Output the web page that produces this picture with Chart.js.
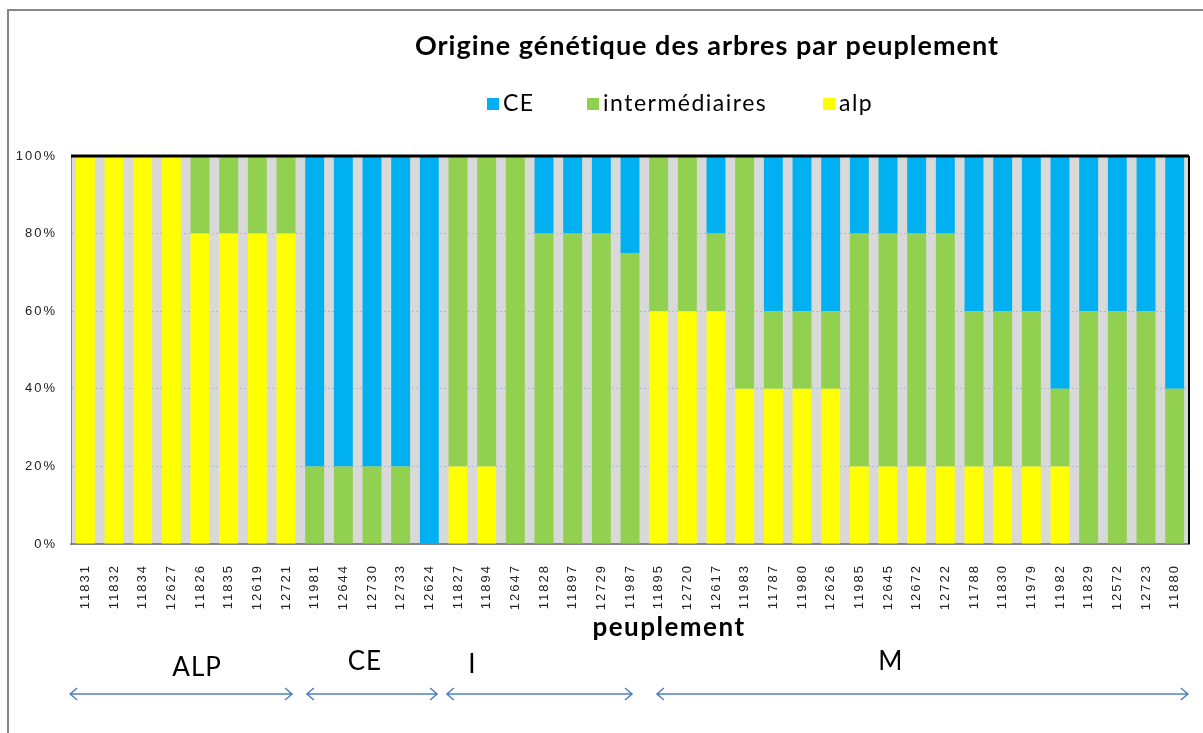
<!DOCTYPE html>
<html>
<head>
<meta charset="utf-8">
<script src="https://cdn.jsdelivr.net/npm/chart.js@4"></script>
<style>
    html, body { margin: 0; padding: 0; background: #fff; }
    #wrap { position: relative; width: 1203px; height: 733px; }
</style>
</head>
<body>
<div id="wrap"><canvas id="chart" width="1203" height="733"></canvas></div>
<script>
// Stand codes (peuplements)
const stands = [
    '11831', '11832', '11834', '12627', '11826', '11835', '12619', '12721',
    '11981', '12644', '12730', '12733', '12624',
    '11827', '11894', '12647', '11828', '11897', '12729', '11987',
    '11895', '12720', '12617', '11983', '11787', '11980', '12626', '11985', '12645',
    '12672', '12722', '11788', '11830', '11979', '11982', '11829', '12572', '12723', '11880'
];

// Share of trees per origin (%)
const alpValues = [
    100, 100, 100, 100, 80, 80, 80, 80,
    0, 0, 0, 0, 0,
    20, 20, 0, 0, 0, 0, 0,
    60, 60, 60, 40, 40, 40, 40, 20, 20,
    20, 20, 20, 20, 20, 20, 0, 0, 0, 0
];
const interValues = [
    0, 0, 0, 0, 20, 20, 20, 20,
    20, 20, 20, 20, 0,
    80, 80, 100, 80, 80, 80, 75,
    40, 40, 20, 60, 20, 20, 20, 60, 60,
    60, 60, 40, 40, 40, 20, 60, 60, 60, 40
];
const ceValues = [
    0, 0, 0, 0, 0, 0, 0, 0,
    80, 80, 80, 80, 100,
    0, 0, 0, 20, 20, 20, 25,
    0, 0, 20, 0, 40, 40, 40, 20, 20,
    20, 20, 40, 40, 40, 60, 40, 40, 40, 60
];

const yTicks = [0, 20, 40, 60, 80, 100];

// Stand groups shown under the axis
const groupNames = ['ALP', 'CE', 'I', 'M'];

const seriesColors = { ce: '#00B0F0', inter: '#92D050', alp: '#FFFF00' };
const textFont = 'Lato, "Open Sans", sans-serif';

// Draws the frame, background, title, legend, axis title and group arrows
const decorPlugin = {
    id: 'decor',
    beforeDraw(chart) {
        const ctx = chart.ctx;
        const a = chart.chartArea;
        ctx.save();
        ctx.fillStyle = '#D9D9D9';
        ctx.fillRect(a.left, a.top, a.right - a.left, a.bottom - a.top);
        ctx.restore();
        // wider spacing for the tick labels (Excel look)
        ctx.letterSpacing = '2px';
    },
    beforeDatasetsDraw(chart) {
        chart.ctx.letterSpacing = '0px';
    },
    afterDatasetsDraw(chart) {
        const ctx = chart.ctx;
        const a = chart.chartArea;
        ctx.save();
        // black top and right borders of the plot
        ctx.strokeStyle = '#000';
        ctx.lineWidth = 3;
        ctx.beginPath();
        ctx.moveTo(a.left, a.top);
        ctx.lineTo(a.right, a.top);
        ctx.stroke();
        ctx.lineWidth = 2;
        ctx.beginPath();
        ctx.moveTo(a.right, a.top);
        ctx.lineTo(a.right, a.bottom);
        ctx.stroke();
        ctx.restore();
    },
    afterDraw(chart) {
        const ctx = chart.ctx;
        const xs = chart.scales.x;
        ctx.save();

        // outer frame (top and left edges visible)
        ctx.strokeStyle = '#868686';
        ctx.lineWidth = 2;
        ctx.beginPath();
        ctx.moveTo(8, 740);
        ctx.lineTo(8, 10);
        ctx.lineTo(1210, 10);
        ctx.stroke();

        // title
        ctx.fillStyle = '#000';
        ctx.textAlign = 'center';
        ctx.textBaseline = 'middle';
        ctx.letterSpacing = '1px';
        ctx.font = 'bold 27px ' + textFont;
        ctx.fillText('Origine génétique des arbres par peuplement', 707, 46);

        // legend
        const legendItems = [
            { text: 'CE', color: seriesColors.ce, x: 487 },
            { text: 'intermédiaires', color: seriesColors.inter, x: 587 },
            { text: 'alp', color: seriesColors.alp, x: 823 }
        ];
        ctx.font = '23px ' + textFont;
        ctx.letterSpacing = '1.5px';
        ctx.textAlign = 'left';
        legendItems.forEach(item => {
            ctx.fillStyle = item.color;
            ctx.fillRect(item.x, 98, 12, 12);
            ctx.fillStyle = '#000';
            ctx.fillText(item.text, item.x + 16, 104);
        });

        // x axis title
        ctx.textAlign = 'center';
        ctx.letterSpacing = '1.5px';
        ctx.font = 'bold 26px ' + textFont;
        ctx.fillText('peuplement', 669, 628);

        // group labels and arrows, in category units
        const p0 = xs.getPixelForValue(0);
        const step = xs.getPixelForValue(1) - p0;
        const at = i => p0 + i * step;
        const labelAt = [3.9, 9.75, 13.5, 28.1];
        const labelY = [668, 662, 665, 662];
        const arrowFrom = [-0.53, 7.73, 12.61, 19.94];
        const arrowTo = [7.21, 12.27, 19.07, 38.46];
        ctx.font = '26px ' + textFont;
        ctx.letterSpacing = '1px';
        ctx.fillStyle = '#000';
        groupNames.forEach((name, g) => {
            ctx.fillText(name, at(labelAt[g]), labelY[g]);
            const x1 = at(arrowFrom[g]);
            const x2 = at(arrowTo[g]);
            const y = 694;
            ctx.strokeStyle = '#4F81BD';
            ctx.lineWidth = 1.5;
            ctx.beginPath();
            ctx.moveTo(x1, y);
            ctx.lineTo(x2, y);
            ctx.moveTo(x1 + 7, y - 6);
            ctx.lineTo(x1, y);
            ctx.lineTo(x1 + 7, y + 6);
            ctx.moveTo(x2 - 7, y - 6);
            ctx.lineTo(x2, y);
            ctx.lineTo(x2 - 7, y + 6);
            ctx.stroke();
        });
        ctx.restore();
    }
};

const ctx = document.getElementById('chart').getContext('2d');
new Chart(ctx, {
    type: 'bar',
    data: {
        labels: stands,
        datasets: [
            { label: 'alp', data: alpValues, backgroundColor: seriesColors.alp },
            { label: 'intermédiaires', data: interValues, backgroundColor: seriesColors.inter },
            { label: 'CE', data: ceValues, backgroundColor: seriesColors.ce }
        ]
    },
    options: {
        responsive: false,
        animation: false,
        layout: {
            padding: { left: 11, right: 14, top: 156, bottom: 109 }
        },
        datasets: {
            bar: { barPercentage: 0.66, categoryPercentage: 1.0, borderWidth: 0 }
        },
        scales: {
            x: {
                stacked: true,
                grid: { display: false },
                border: { color: '#868686', width: 2 },
                ticks: {
                    color: '#222',
                    minRotation: 90,
                    maxRotation: 90,
                    autoSkip: false,
                    padding: 12,
                    font: { family: '"Liberation Sans", Arial, sans-serif', size: 13 }
                },
                afterFit(scale) { scale.height = 80; }
            },
            y: {
                stacked: true,
                min: 0,
                max: 100,
                afterBuildTicks(scale) {
                    scale.ticks = yTicks.map(v => ({ value: v }));
                },
                grid: {
                    color: 'rgba(150, 175, 215, 0.7)',
                    drawTicks: false
                },
                border: { color: '#868686', width: 1, dash: [2, 2] },
                ticks: {
                    color: '#222',
                    padding: 14,
                    font: { family: '"Liberation Sans", Arial, sans-serif', size: 13 },
                    callback: v => v + '%'
                },
                afterFit(scale) { scale.width = 60; }
            }
        },
        plugins: {
            legend: { display: false },
            tooltip: { enabled: false },
            title: { display: false }
        }
    },
    plugins: [decorPlugin]
});
</script>
</body>
</html>
